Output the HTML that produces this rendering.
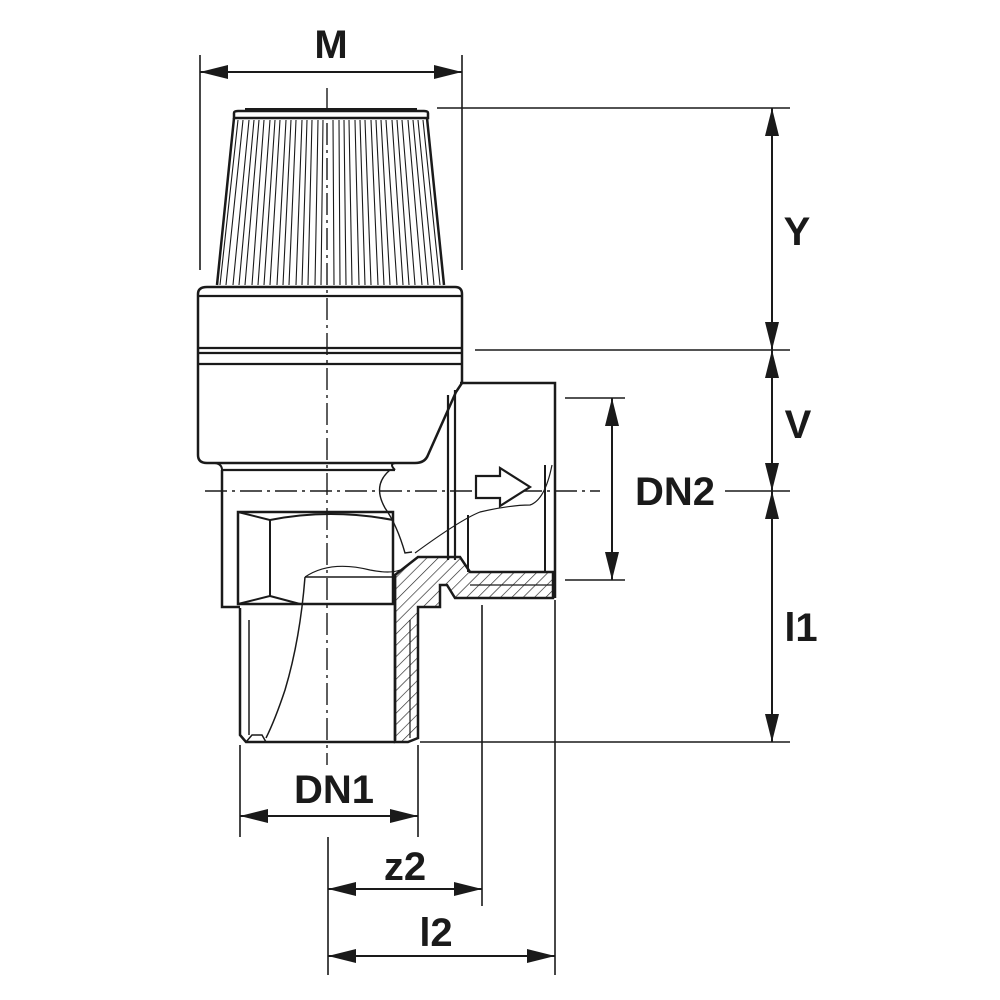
<!DOCTYPE html>
<html><head><style>html,body{margin:0;padding:0;background:#fff}svg{display:block}</style></head>
<body>
<svg width="1000" height="1000" viewBox="0 0 1000 1000" xmlns="http://www.w3.org/2000/svg">
<defs>
<marker id="a" viewBox="0 0 28 14" refX="28" refY="7" markerWidth="28" markerHeight="14" markerUnits="userSpaceOnUse" orient="auto-start-reverse"><path d="M0,0 L28,7 L0,14 Z" fill="#1a1a1a"/></marker>
<pattern id="h" patternUnits="userSpaceOnUse" width="8" height="8" patternTransform="rotate(45)"><line x1="0" y1="0" x2="0" y2="8" stroke="#222" stroke-width="1.3"/></pattern>
</defs>
<g fill="none" stroke="#1a1a1a">
<g stroke-width="1.6">
<line x1="200" y1="55" x2="200" y2="270"/><line x1="462" y1="55" x2="462" y2="270"/>
<line x1="437" y1="108" x2="790" y2="108"/><line x1="475" y1="350" x2="790" y2="350"/>
<line x1="725" y1="491" x2="790" y2="491"/><line x1="420" y1="742" x2="790" y2="742"/>
<line x1="565" y1="398" x2="625" y2="398"/><line x1="565" y1="580" x2="625" y2="580"/>
<line x1="240" y1="745" x2="240" y2="837"/><line x1="418" y1="745" x2="418" y2="837"/>
<line x1="328" y1="837" x2="328" y2="975"/><line x1="482" y1="605" x2="482" y2="906"/>
<line x1="555" y1="600" x2="555" y2="975"/>
</g>
<g stroke-width="2">
<line x1="200" y1="72" x2="462" y2="72" marker-start="url(#a)" marker-end="url(#a)"/>
<line x1="772" y1="108" x2="772" y2="350" marker-start="url(#a)" marker-end="url(#a)"/>
<line x1="772" y1="350" x2="772" y2="491" marker-start="url(#a)" marker-end="url(#a)"/>
<line x1="772" y1="491" x2="772" y2="742" marker-start="url(#a)" marker-end="url(#a)"/>
<line x1="612" y1="398" x2="612" y2="580" marker-start="url(#a)" marker-end="url(#a)"/>
<line x1="240" y1="816" x2="418" y2="816" marker-start="url(#a)" marker-end="url(#a)"/>
<line x1="328" y1="889" x2="482" y2="889" marker-start="url(#a)" marker-end="url(#a)"/>
<line x1="328" y1="956" x2="555" y2="956" marker-start="url(#a)" marker-end="url(#a)"/>
</g>
<g stroke-width="1.4" stroke-dasharray="22,5,3,5">
<line x1="327" y1="88" x2="327" y2="765"/>
<line x1="205" y1="491" x2="600" y2="491"/>
</g>
<path d="M234,118 L217,285 M427,118 L444,285" stroke-width="2.5"/>
<path d="M234,118 L234,113 Q234,111 238,111 L424,111 Q428,111 428,113 L428,118 Z" stroke-width="2.5" fill="#fff"/>
<line x1="245" y1="109" x2="417" y2="109" stroke-width="2"/>
<path stroke-width="1.1" d="M238,120L220,285M243,120L226,285M249,120L233,285M254,120L239,285M259,120L245,285M264,120L252,285M270,120L258,285M275,120L264,285M280,120L270,285M286,120L277,285M291,120L283,285M296,120L289,285M302,120L296,285M307,120L302,285M312,120L308,285M318,120L315,285M323,120L321,285M333,120L334,285M339,120L340,285M344,120L346,285M349,120L352,285M355,120L359,285M360,120L365,285M365,120L371,285M371,120L378,285M376,120L384,285M381,120L390,285M386,120L397,285M392,120L403,285M397,120L409,285M402,120L415,285M408,120L422,285M413,120L428,285M418,120L434,285M423,120L440,285"/>
<path d="M207,287 L455,287 Q462,287 462,294 L462,383 L456,392 L428,455 Q425,463 415,463 L207,463 Q198,463 198,455 L198,294 Q198,287 207,287 Z" stroke-width="2.5"/>
<g stroke-width="2.2">
<line x1="199" y1="296" x2="461" y2="296"/>
<line x1="199" y1="348" x2="461" y2="348"/>
<line x1="199" y1="353" x2="461" y2="353"/>
<line x1="199" y1="364" x2="461" y2="364"/>
<line x1="222" y1="470" x2="395" y2="470"/>
</g>
<path d="M222,470 L222,607 L240,607" stroke-width="2.5"/>
<path d="M215,463 Q222,464 222,470 M395,470 Q389,464 395,463" stroke-width="2"/>
<path d="M390,470 Q372,485 385,508 Q397,525 405,553 L412,552" stroke-width="1.4"/>
<rect x="238" y="512" width="155" height="92" stroke-width="2.5"/>
<path d="M238,512 L270,520 L270,596 L238,604 M270,520 Q330,508 393,520 M270,596 Q285,600 300,604" stroke-width="2"/>
<path d="M240,608 L240,735 L246,742 L395,742" stroke-width="2.5"/>
<path d="M249,620 L249,735" stroke-width="1.5"/>
<path d="M246,742 L252,735 L262,735 L266,742" stroke-width="1.5"/>
<path d="M395,575 L395,740" stroke-width="2.5"/>
<path d="M305,577 L395,577 M305,577 Q300,640 285,690 Q275,720 266,738" stroke-width="1.5"/>
<path d="M305,577 Q330,560 370,570 Q390,574 400,570 M415,553 Q460,520 480,512 Q510,505 530,505 Q545,500 552,465" stroke-width="1.2"/>
<path d="M395,575 L418,557 L460,557 L470,572 L553,572 L553,598 L455,598 L447,585 L440,585 L440,607 L418,607 L418,738 L408,742 L395,742 Z" fill="url(#h)" stroke-width="2.5"/>
<line x1="410" y1="620" x2="410" y2="738" stroke-width="1.2"/>
<line x1="470" y1="585" x2="553" y2="585" stroke-width="1.2"/>
<path d="M460,383 L555,383 L555,598" stroke-width="2.5"/>
<path d="M448,395 L448,560 M455,390 L455,560" stroke-width="2.2"/>
<path d="M468,515 L468,572 M545,465 L545,572" stroke-width="2"/>
<path d="M476,476 L500,476 L500,468 L530,487 L500,506 L500,498 L476,498 Z" stroke-width="2.2" fill="#fff"/>
</g>
<g font-family="Liberation Sans, sans-serif" font-size="40" font-weight="bold" fill="#1a1a1a" text-anchor="middle">
<text x="331" y="58">M</text>
<text x="797" y="245">Y</text>
<text x="798" y="438">V</text>
<text x="675" y="505">DN2</text>
<text x="801" y="641">l1</text>
<text x="334" y="803">DN1</text>
<text x="405" y="880">z2</text>
<text x="436" y="946">l2</text>
</g>
</svg>
</body></html>
